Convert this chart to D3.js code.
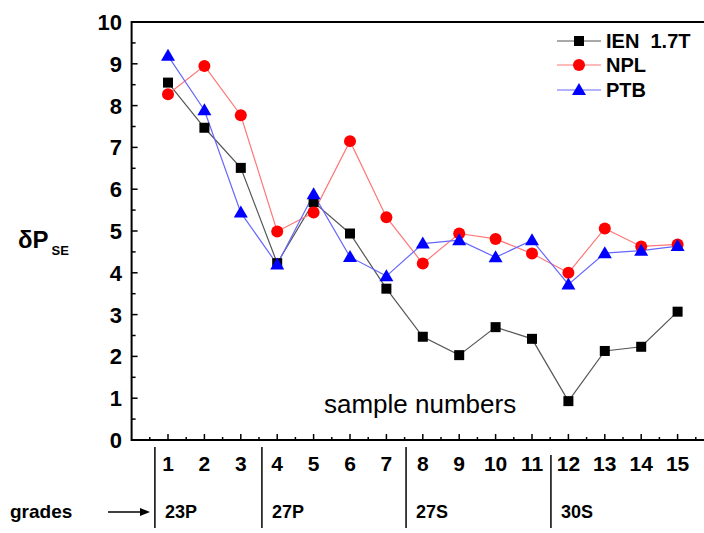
<!DOCTYPE html>
<html><head><meta charset="utf-8">
<script src="https://cdn.jsdelivr.net/npm/d3@7/dist/d3.min.js"></script>
<style>body{margin:0;background:#fff}svg{display:block}text{font-family:"Liberation Sans",Arial,sans-serif;white-space:pre}</style>
</head><body><div id="c"></div>
<script>
const samples = [1,2,3,4,5,6,7,8,9,10,11,12,13,14,15];
const ien = [8.55,7.47,6.51,4.23,5.69,4.94,3.62,2.47,2.03,2.70,2.42,0.93,2.13,2.23,3.07];
const npl = [8.27,8.95,7.77,4.99,5.44,7.15,5.33,4.22,4.94,4.81,4.46,4.00,5.06,4.63,4.68];
const ptb = [9.19,7.89,5.44,4.20,5.88,4.38,3.92,4.70,4.78,4.37,4.78,3.72,4.47,4.53,4.64];
const yTicks = [0,1,2,3,4,5,6,7,8,9,10];
const gradeNames = ["23P","27P","27S","30S"];
const gradeSeps = [0.64,3.58,7.54,11.52];
const seriesNames = ["IEN  1.7T","NPL","PTB"];

const W=704,H=533;
const svg=d3.select("#c").append("svg").attr("width",W).attr("height",H);
const x=d3.scaleLinear().domain([0,16]).range([131.6,714]);
const y=d3.scaleLinear().domain([0,10]).range([440,22]);

// frame
svg.append("line").attr("x1",x(0)).attr("x2",W).attr("y1",y(10)).attr("y2",y(10)).attr("stroke","#000").attr("stroke-width",2);
svg.append("line").attr("x1",x(0)).attr("x2",W).attr("y1",y(0)).attr("y2",y(0)).attr("stroke","#000").attr("stroke-width",2);
svg.append("line").attr("x1",x(0)).attr("x2",x(0)).attr("y1",y(0)+1).attr("y2",y(10)-1).attr("stroke","#000").attr("stroke-width",2);

// y ticks
const yMinor=d3.range(0.5,10,1);
svg.selectAll(".yt").data(yTicks).enter().append("line").attr("x1",x(0)).attr("x2",x(0)+6).attr("y1",d=>y(d)).attr("y2",d=>y(d)).attr("stroke","#000").attr("stroke-width",1.5);
svg.selectAll(".ym").data(yMinor).enter().append("line").attr("x1",x(0)).attr("x2",x(0)+4).attr("y1",d=>y(d)).attr("y2",d=>y(d)).attr("stroke","#000").attr("stroke-width",1.5);
svg.selectAll(".yl").data(yTicks).enter().append("text").attr("x",122).attr("y",d=>y(d)+8).attr("text-anchor","end").attr("font-size",22).attr("font-weight","bold").text(d=>d);

// x ticks
svg.selectAll(".xt").data(samples).enter().append("line").attr("x1",d=>x(d)).attr("x2",d=>x(d)).attr("y1",y(0)).attr("y2",y(0)-6).attr("stroke","#000").attr("stroke-width",1.5);
svg.selectAll(".xm").data(d3.range(0.5,16,1)).enter().append("line").attr("x1",d=>x(d)).attr("x2",d=>x(d)).attr("y1",y(0)).attr("y2",y(0)-3).attr("stroke","#000").attr("stroke-width",1.5);
svg.selectAll(".xl").data(samples).enter().append("text").attr("x",d=>x(d)).attr("y",471).attr("text-anchor","middle").attr("font-size",21).attr("font-weight","bold").text(d=>d);

// grade separators
svg.selectAll(".gs").data(gradeSeps).enter().append("line").attr("x1",d=>x(d)).attr("x2",d=>x(d)).attr("y1",(d,i)=>i===3?455:447).attr("y2",528).attr("stroke","#000").attr("stroke-width",1.5);
svg.selectAll(".gl").data(gradeNames).enter().append("text").attr("x",(d,i)=>x(gradeSeps[i])+10).attr("y",518).attr("font-size",18).attr("font-weight","bold").text(d=>d);
svg.append("text").attr("x",10).attr("y",518).attr("font-size",19).attr("font-weight","bold").text("grades");
svg.append("line").attr("x1",108).attr("x2",142).attr("y1",512).attr("y2",512).attr("stroke","#000").attr("stroke-width",1.3);
svg.append("path").attr("d","M140,508 L150,512 L140,516 Z").attr("fill","#000");

// y label
const yl=svg.append("text").attr("x",18).attr("y",248).attr("font-size",24).attr("font-weight","bold");
yl.append("tspan").text("δP");
yl.append("tspan").attr("font-size",13).attr("dy",7).attr("dx",3).text("SE");

svg.append("text").attr("x",324).attr("y",413).attr("font-size",26).text("sample numbers");

// series
const series=[
 {name:seriesNames[0],vals:ien,line:"#555",mk:"#000",shape:"square"},
 {name:seriesNames[1],vals:npl,line:"#f77",mk:"#f00",shape:"circle"},
 {name:seriesNames[2],vals:ptb,line:"#66f",mk:"#00f",shape:"triangle"}];
const line=d3.line().x((d,i)=>x(samples[i])).y(d=>y(d));
function marker(g,s,cx,cy){
  if(s.shape==="square") g.append("rect").attr("x",cx-5).attr("y",cy-5).attr("width",10).attr("height",10).attr("fill",s.mk);
  else if(s.shape==="circle") g.append("circle").attr("cx",cx).attr("cy",cy).attr("r",6).attr("fill",s.mk);
  else g.append("path").attr("d",`M${cx},${cy-7} L${cx+7},${cy+5} L${cx-7},${cy+5} Z`).attr("fill",s.mk);
}
series.forEach(s=>{
  svg.append("path").attr("d",line(s.vals)).attr("fill","none").attr("stroke",s.line).attr("stroke-width",1.2);
});
series.forEach(s=>{
  const g=svg.append("g");
  s.vals.forEach((v,i)=>marker(g,s,x(samples[i]),y(v)));
});

// legend
const ly=[41,65,90];
series.forEach((s,i)=>{
  svg.append("line").attr("x1",557).attr("x2",601).attr("y1",ly[i]).attr("y2",ly[i]).attr("stroke",s.line).attr("stroke-width",1.2);
  marker(svg,s,579,ly[i]);
  svg.append("text").attr("x",606).attr("y",ly[i]+7).attr("font-size",20).attr("font-weight","bold").text(s.name);
});
</script></body></html>
